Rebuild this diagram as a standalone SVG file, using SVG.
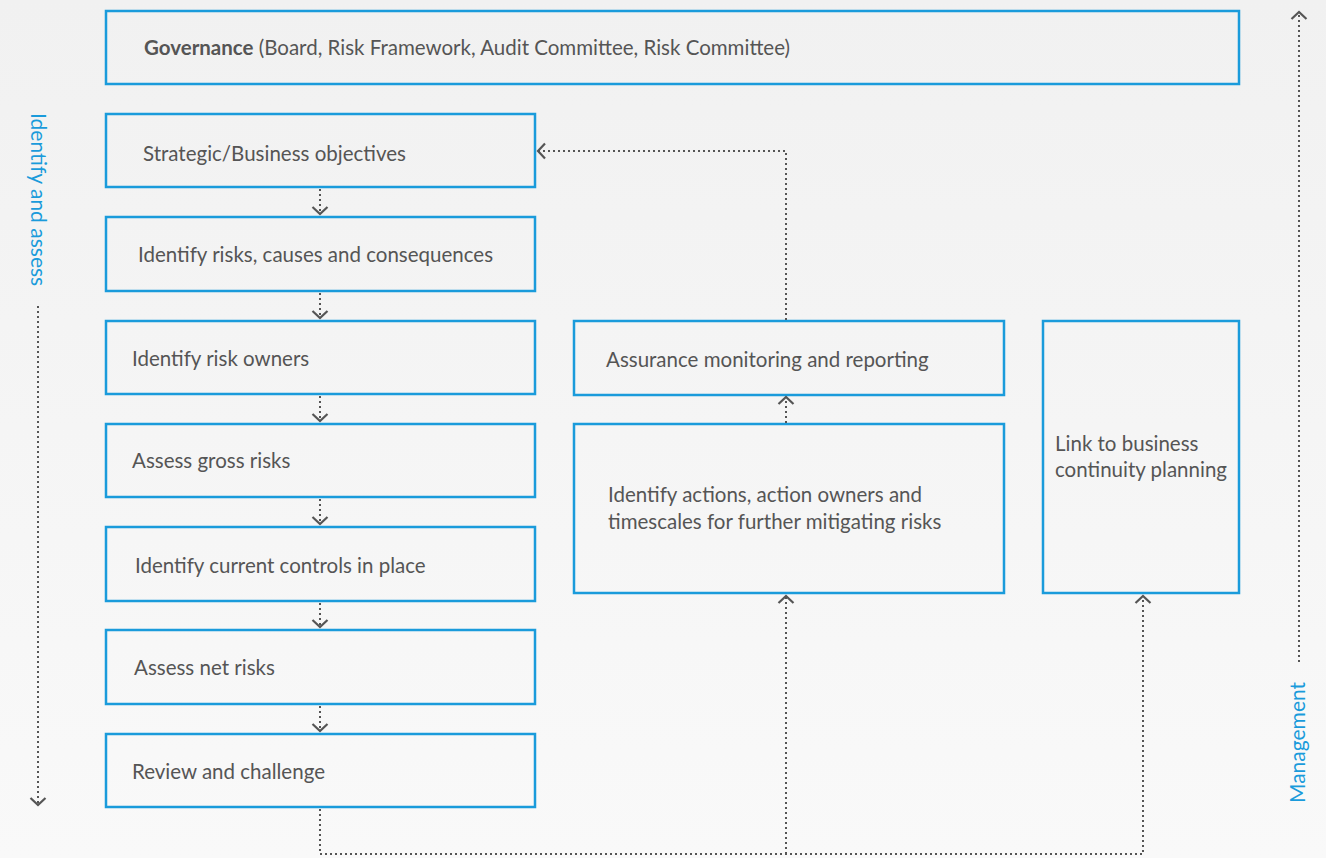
<svg xmlns="http://www.w3.org/2000/svg" width="1326" height="858" viewBox="0 0 1326 858">
<defs>
<linearGradient id="bg" x1="0" y1="0" x2="0" y2="1">
<stop offset="0" stop-color="#f1f1f1"/>
<stop offset="1" stop-color="#f9f9f9"/>
</linearGradient>
<marker id="chev" viewBox="0 0 16 18" refX="14" refY="9" markerWidth="16" markerHeight="18" markerUnits="userSpaceOnUse" orient="auto">
<path d="M7,1.5 L14,9 L7,16.5" fill="none" stroke="#555" stroke-width="2.2"/>
</marker>
<style>
.box{fill:none;stroke:#1a9bdb;stroke-width:2.5}
.t{font-family:Lato,"Liberation Sans",sans-serif;font-size:20.5px;fill:#555}
.b{font-weight:bold}
.side{font-family:Lato,"Liberation Sans",sans-serif;font-size:21px;fill:#1a9bdb}
.dot{fill:none;stroke:#555;stroke-width:2;stroke-dasharray:2 3}
</style>
</defs>
<rect width="1326" height="858" fill="url(#bg)"/>
<g id="governance"><rect class="box" x="106" y="11" width="1133" height="73"/><text class="t" x="144" y="55"><tspan class="b">Governance</tspan> (Board, Risk Framework, Audit Committee, Risk Committee)</text></g>
<g id="strategic"><rect class="box" x="106" y="114" width="429" height="73"/><text class="t" x="143" y="161">Strategic/Business objectives</text></g>
<g id="identify-risks"><rect class="box" x="106" y="217" width="429" height="74"/><text class="t" x="138" y="262">Identify risks, causes and consequences</text></g>
<g id="risk-owners"><rect class="box" x="106" y="321" width="429" height="73"/><text class="t" x="132" y="366">Identify risk owners</text></g>
<g id="gross"><rect class="box" x="106" y="424" width="429" height="73"/><text class="t" x="132" y="468">Assess gross risks</text></g>
<g id="controls"><rect class="box" x="106" y="527" width="429" height="74"/><text class="t" x="135" y="573">Identify current controls in place</text></g>
<g id="net"><rect class="box" x="106" y="630" width="429" height="74"/><text class="t" x="134" y="675">Assess net risks</text></g>
<g id="review"><rect class="box" x="106" y="734" width="429" height="73"/><text class="t" x="132" y="779">Review and challenge</text></g>
<g id="assurance"><rect class="box" x="574" y="321" width="430" height="74"/><text class="t" x="606" y="367">Assurance monitoring and reporting</text></g>
<g id="actions"><rect class="box" x="574" y="424" width="430" height="169"/><text class="t" x="608" y="502">Identify actions, action owners and</text><text class="t" x="608" y="529">timescales for further mitigating risks</text></g>
<g id="bcp"><rect class="box" x="1043" y="321" width="196" height="272"/><text class="t" x="1055" y="451">Link to business</text><text class="t" x="1055" y="477">continuity planning</text></g>
<g id="side-left"><text class="side" transform="translate(31,113) rotate(90)">Identify and assess</text></g>
<g id="side-right"><text class="side" transform="translate(1305,803) rotate(-90)">Management</text></g>
<g id="connectors">
<path class="dot" d="M320,189 V214" marker-end="url(#chev)"/>
<path class="dot" d="M320,293 V318" marker-end="url(#chev)"/>
<path class="dot" d="M320,396 V421" marker-end="url(#chev)"/>
<path class="dot" d="M320,499 V524" marker-end="url(#chev)"/>
<path class="dot" d="M320,603 V627" marker-end="url(#chev)"/>
<path class="dot" d="M320,706 V731" marker-end="url(#chev)"/>
<path class="dot" d="M786,320 V151 H538" marker-end="url(#chev)"/>
<path class="dot" d="M786,423 V397" marker-end="url(#chev)"/>
<path class="dot" d="M320,809 V854 H1143 V596" marker-end="url(#chev)"/>
<path class="dot" d="M786,854 V596" marker-end="url(#chev)"/>
<path class="dot" d="M38,306 V805" marker-end="url(#chev)"/>
<path class="dot" d="M1299,662 V12" marker-end="url(#chev)"/>
</g>
</svg>
